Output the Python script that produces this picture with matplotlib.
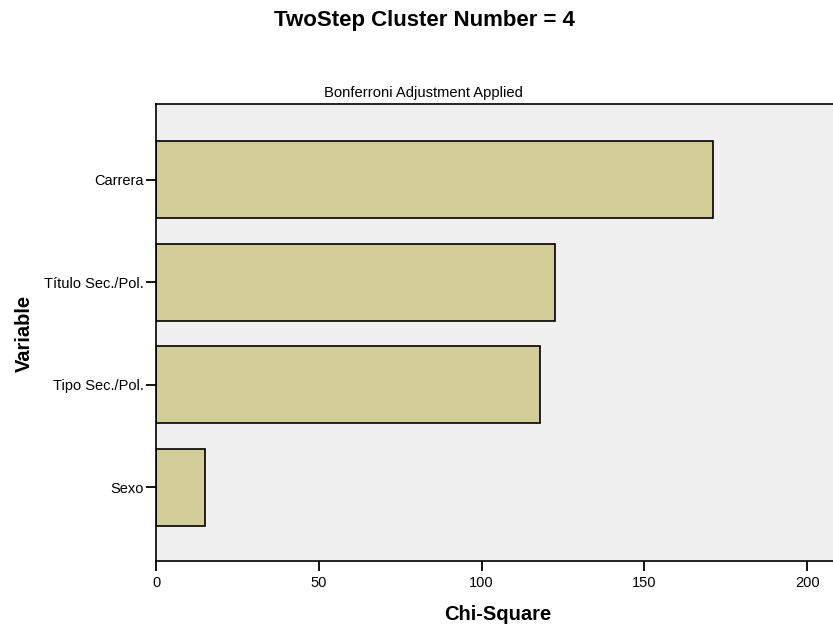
import matplotlib
matplotlib.use("Agg")
import matplotlib.pyplot as plt

plt.rcParams['font.family'] = ['Liberation Sans', 'DejaVu Sans']

variables = ["Sexo", "Tipo Sec./Pol.", "Título Sec./Pol.", "Carrera"]
chi_square = [14.9, 117.9, 122.5, 171.1]
x_ticks = [0, 50, 100, 150, 200]

fig = plt.figure(figsize=(8.33, 6.3), dpi=100)
ax = fig.add_axes([0.1873, 0.1095, 0.8127, 0.7255])
ax.set_facecolor("#f0f0f0")

pos = list(range(len(variables)))
ax.barh(pos, chi_square, height=0.75, color="#d3ce97", edgecolor="black", linewidth=1.2)

ax.set_xlim(0, 207.9)
ax.set_ylim(-0.72, 3.74)
ax.set_xticks(x_ticks)
ax.set_yticks(pos)
ax.set_yticklabels(variables)
ax.tick_params(axis="both", labelsize=10.5, length=7, width=1.3, direction="out")
ax.tick_params(axis="y", pad=2)
ax.tick_params(axis="x", pad=4)

for s in ["left", "bottom", "top"]:
    ax.spines[s].set_linewidth(1.2)
ax.spines["right"].set_visible(False)

fig.text(0.510, 0.968, "TwoStep Cluster Number = 4", ha="center", va="center",
         fontsize=16, fontweight="bold")
fig.text(0.508, 0.853, "Bonferroni Adjustment Applied", ha="center", va="center",
         fontsize=10.6)
fig.text(0.598, 0.024, "Chi-Square", ha="center", va="center",
         fontsize=14.5, fontweight="bold")
fig.text(0.029, 0.471, "Variable", ha="center", va="center", rotation=90,
         fontsize=14.5, fontweight="bold")

fig.savefig("out.png", dpi=100)
